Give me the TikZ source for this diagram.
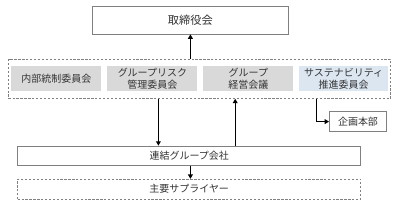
\documentclass[tikz,border=0pt]{standalone}
\usepackage{fontspec}
\setmainfont{Noto Sans CJK JP}
\usetikzlibrary{arrows.meta,calc,positioning}
\definecolor{boxgray}{HTML}{D9D9D9}
\definecolor{boxblue}{HTML}{DCE6F1}
\definecolor{linegray}{HTML}{808080}
\definecolor{textgray}{HTML}{333333}
\tikzset{
  plainbox/.style={draw=linegray,line width=0.5pt,fill=white,text=textgray,align=center,inner sep=0pt},
  dashbox/.style={plainbox,dash pattern=on 1.6pt off 1.2pt},
  cmtbox/.style={fill=boxgray,text=textgray,align=center,inner sep=0pt,minimum width=2.25cm,minimum height=0.62cm},
  link/.style={line width=0.8pt,-{Triangle[length=1.1mm,width=1.2mm]}}
}
\begin{document}
\begin{tikzpicture}[font=\fontsize{7.1}{8.4}\selectfont]
  \useasboundingbox (0,0) rectangle (10,-5.25);
  % board
  \node[plainbox,minimum width=4.88cm,minimum height=0.68cm,font=\fontsize{8}{9.5}\selectfont] (board) at (4.76,-0.51) {取締役会};
  % committees
  \node[dashbox,fill=none,minimum width=9.55cm,minimum height=0.98cm] (group) at (4.99,-1.97) {};
  \node[cmtbox] (ic) at (1.41,-1.96) {内部統制委員会};
  \node[cmtbox] (risk) at (3.81,-1.96) {グループリスク\\管理委員会};
  \node[cmtbox] (mgmt) at (6.21,-1.96) {グループ\\経営会議};
  \node[cmtbox,fill=boxblue,minimum width=2.23cm] (sus) at (8.59,-1.96) {サステナビリティ\\推進委員会};
  % lower boxes
  \node[plainbox,minimum width=1.43cm,minimum height=0.5cm] (plan) at (8.95,-3.04) {企画本部};
  \node[plainbox,minimum width=8.58cm,minimum height=0.48cm] (cons) at (4.73,-3.89) {連結グループ会社};
  \node[dashbox,minimum width=8.58cm,minimum height=0.5cm] (sup) at (4.73,-4.73) {主要サプライヤー};
  % connectors
  \coordinate (dn) at (3.96,0);
  \coordinate (up) at (5.88,0);
  \coordinate (br) at (7.92,0);
  \draw[link] (board.south |- group.north) -- (board.south);
  \draw[link] (group.south -| dn) -- (cons.north -| dn);
  \draw[link] (cons.north -| up) -- (group.south -| up);
  \draw[link] (group.south -| br) |- (plan.west);
  \draw[link] (board.south |- cons.south) -- (board.south |- sup.north);
\end{tikzpicture}
\end{document}
